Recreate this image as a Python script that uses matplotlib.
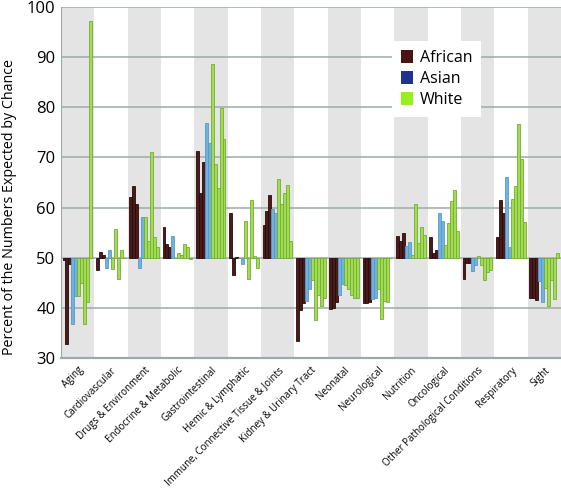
import numpy as np
import matplotlib
matplotlib.use('Agg')
import matplotlib.pyplot as plt
from matplotlib.patches import Patch

plt.rcParams['font.family'] = ['Open Sans', 'DejaVu Sans']

categories = ['Aging', 'Cardiovascular', 'Drugs & Environment', 'Endocrine & Metabolic',
              'Gastrointestinal', 'Hemic & Lymphatic', 'Immune, Connective Tissue & Joints',
              'Kidney & Urinary Tract', 'Neonatal', 'Neurological', 'Nutrition', 'Oncological',
              'Other Pathological Conditions', 'Respiratory', 'Sight']

# 3 African, 2 Asian, 5 White bars per category (percent)
african = [
    [49.6, 32.7, 48.8],
    [47.5, 51.1, 50.6],
    [62.1, 64.4, 60.7],
    [56.2, 52.8, 52.1],
    [71.2, 62.9, 69.0],
    [59.0, 46.5, 50.1],
    [56.6, 59.4, 62.5],
    [33.3, 39.5, 40.9],
    [39.7, 39.9, 41.2],
    [41.0, 41.0, 41.2],
    [54.3, 53.4, 55.0],
    [54.1, 51.0, 51.5],
    [45.7, 48.9, 49.0],
    [54.1, 61.5, 58.9],
    [42.0, 42.0, 41.6],
]
asian = [
    [36.8, 42.3],
    [48.0, 51.5],
    [48.0, 58.1],
    [54.4, 50.0],
    [76.9, 72.9],
    [50.0, 48.7],
    [59.8, 58.9],
    [41.4, 43.8],
    [42.5, 44.8],
    [41.8, 42.0],
    [52.4, 53.1],
    [58.9, 57.4],
    [47.4, 48.5],
    [66.0, 52.1],
    [45.3, 41.1],
]
white = [
    [42.3, 45.0, 36.8, 41.2, 97.3],
    [47.7, 55.8, 45.7, 51.6, 50.0],
    [58.1, 53.4, 71.0, 54.1, 52.1],
    [51.0, 50.5, 52.8, 52.1, 49.8],
    [88.6, 68.6, 64.0, 79.8, 73.6],
    [57.3, 45.7, 61.5, 50.3, 48.0],
    [65.6, 60.7, 63.0, 64.5, 53.3],
    [45.5, 37.6, 42.5, 40.4, 42.0],
    [44.6, 43.8, 42.6, 42.0, 42.0],
    [43.8, 37.8, 41.4, 41.2, 49.9],
    [50.6, 60.7, 53.0, 56.1, 54.6],
    [52.6, 56.9, 61.3, 63.5, 55.3],
    [50.3, 48.5, 45.5, 47.2, 47.6],
    [61.8, 64.3, 76.7, 69.7, 57.2],
    [44.0, 40.4, 45.5, 41.8, 51.0],
]

base = 50
bar_w = 0.089
start = -0.5 + 0.045

fig = plt.figure(figsize=(5.61, 4.88), dpi=100)
ax = fig.add_axes([61 / 561, 1 - 358 / 488, 500 / 561, 351 / 488])

# alternating background bands
for i in range(len(categories)):
    if i % 2 == 0:
        ax.axvspan(i - 0.5, i + 0.5, color='#e4e4e4', zorder=0, lw=0)

for y in range(30, 101, 10):
    ax.axhline(y, color='#9ea8a8', lw=1.1, zorder=1)

series = [(african, '#4a1b1b', '#2a0a0a'),
          (asian, '#70b2e2', '#5a98c4'),
          (white, '#a2dc52', '#74ad32')]

for i in range(len(categories)):
    slot = 0
    for data, fc, ec in series:
        for v in data[i]:
            x = i + start + (slot + 0.5) * bar_w
            ax.bar(x, v - base, bottom=base, width=bar_w, color=fc,
                   edgecolor=ec, linewidth=0.6, zorder=2)
            slot += 1

ax.set_xlim(-0.5, len(categories) - 0.5)
ax.set_ylim(30, 100)
ax.set_yticks(range(30, 101, 10))
ax.tick_params(axis='y', length=0, labelsize=12, pad=4)
ax.set_xticks(range(len(categories)))
ax.set_xticklabels(categories, rotation=45, ha='right', va='top',
                   rotation_mode='anchor', fontsize=7)
ax.tick_params(axis='x', length=0, pad=5)

for s in ['top', 'right']:
    ax.spines[s].set_visible(False)
ax.spines['left'].set_color('#9ea8a8')
ax.spines['bottom'].set_color('#9ea8a8')
ax.spines['bottom'].set_linewidth(1.6)

ax.set_ylabel('Percent of the Numbers Expected by Chance', fontsize=10.3)
ax.yaxis.set_label_coords(-0.087, 0.43)

handles = [Patch(facecolor='#4a1414', edgecolor='none', label='African'),
           Patch(facecolor='#1d3390', edgecolor='none', label='Asian'),
           Patch(facecolor='#99ee22', edgecolor='none', label='White')]
leg = ax.legend(handles=handles, loc='upper left', bbox_to_anchor=(0.662, 0.903),
                borderaxespad=0, fontsize=11.5, frameon=True, fancybox=False,
                handlelength=0.75, handleheight=0.9, handletextpad=0.45,
                borderpad=0.55, labelspacing=0.3)
leg.get_frame().set_facecolor('white')
leg.get_frame().set_edgecolor('none')
leg.get_frame().set_alpha(1)
leg.set_zorder(5)

plt.savefig('out.png', dpi=100)
